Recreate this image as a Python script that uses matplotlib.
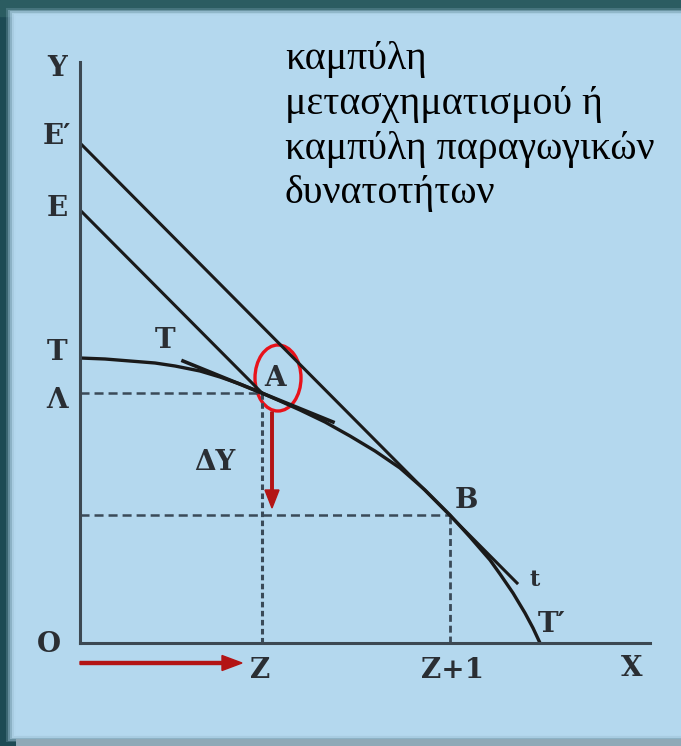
import numpy as np
import matplotlib
matplotlib.use("Agg")
import matplotlib.pyplot as plt
from matplotlib.patches import Ellipse, Rectangle

matplotlib.rcParams['lines.scale_dashes'] = False

# curve T-A-B-T' (x = output, y = Y)
curve_x = [0, 25, 50, 75, 95, 120, 140, 160, 182, 200, 220, 245, 270, 295, 320, 345, 370, 390, 410, 420, 433, 445, 453, 460]
curve_y = [285, 284, 282, 280, 277, 272, 266, 259, 250, 242, 233, 221, 207, 192, 175, 153, 128, 106, 83, 69, 50, 30, 15, 0]

# straight lines
line_E = ([0, 182], [433, 250])          # E -> A
line_E2 = ([0, 437], [500, 60])          # E' -> B -> t
tangent_A = ([103, 253], [282, 221])     # short tangent at A

point_A = (182, 250)
point_B = (370, 128)

y_labels = ["Y", "E\u2032", "E", "T", "\u039b"]
y_label_pos = [575, 506, 435, 291, 243]

title_lines = ["καμπύλη", "μετασχηματισμού ή", "καμπύλη παραγωγικών", "δυνατοτήτων"]

W, H = 681, 746
fig = plt.figure(figsize=(W / 100, H / 100), dpi=100)
fig.patch.set_facecolor("#1f4c56")

# background frame
bg = fig.add_axes([0, 0, 1, 1])
bg.set_xlim(0, W)
bg.set_ylim(H, 0)
bg.axis("off")
bg.add_patch(Rectangle((0, 0), W, H, color="#1d4a54"))
bg.add_patch(Rectangle((0, 0), W, 16, color="#2b5c61"))
for i, a in enumerate([0.2, 0.35, 0.5, 0.7, 0.85, 1.0]):
    bg.add_patch(Rectangle((6 + 2 * i, 8 + 1.5 * i), W, H - 12 - 3 * i, color="#b4d8ee", alpha=a, lw=0))
bg.add_patch(Rectangle((16, 739), W, 7, color="#8fa9b7", lw=0))

# main diagram axes, 1 data unit = 1 pixel, origin at O
ax = fig.add_axes([80 / W, (H - 643) / H, 570 / W, 581 / H])
ax.set_xlim(0, 570)
ax.set_ylim(0, 581)
ax.patch.set_alpha(0)
ax.set_xticks([])
ax.set_yticks([])
for s in ["top", "right"]:
    ax.spines[s].set_visible(False)
for s in ["left", "bottom"]:
    ax.spines[s].set_color("#3c4852")
    ax.spines[s].set_linewidth(2.2)

ink = "#1a1a1a"
dash = "#3a4a58"

# dashed guides
ax.plot([0, point_A[0]], [point_A[1], point_A[1]], color=dash, lw=1.8, dashes=(6.5, 3.6))
ax.plot([point_A[0], point_A[0]], [0, point_A[1]], color=dash, lw=2.2, dashes=(4, 2.5))
ax.plot([0, point_B[0]], [point_B[1], point_B[1]], color=dash, lw=1.8, dashes=(6.5, 3.6))
ax.plot([point_B[0], point_B[0]], [0, point_B[1]], color=dash, lw=2.0, dashes=(5, 2.8))

# lines and curve
ax.plot(curve_x, curve_y, color=ink, lw=2.4, solid_joinstyle="round", solid_capstyle="round")
ax.plot(*line_E, color=ink, lw=2.2)
ax.plot(*line_E2, color=ink, lw=2.2)
ax.plot(*tangent_A, color=ink, lw=2.6)

# red marks
ax.add_patch(Ellipse((198, 265), 46, 66, fill=False, ec="#e8121a", lw=2.4, clip_on=False))
ax.arrow(192, 231, 0, -96, width=2.5, head_width=14, head_length=18,
         length_includes_head=True, color="#b31414", clip_on=False)
ax.arrow(0, -20, 162, 0, width=3, head_width=15, head_length=20,
         length_includes_head=True, color="#b31414", clip_on=False)

# letters
lab = dict(family="DejaVu Serif", weight="bold", fontsize=20, color="#2a2e33",
           ha="center", va="center", clip_on=False)
for t, y in zip(y_labels, y_label_pos):
    ax.text(-23, y, t, **lab)
ax.text(-31, -2, "O", **lab)
ax.text(180, -27, "Z", **lab)
ax.text(372, -27, "Z+1", **lab)
ax.text(552, -25, "X", **lab)
ax.text(135, 181, "\u0394Y", **lab)
ax.text(85, 303, "T", **lab)
ax.text(195, 265, "A", **lab)
ax.text(386, 143, "B", **lab)
ax.text(455, 63, "t", **dict(lab, fontsize=16))
ax.text(472, 18, "T\u2032", **lab)

# greek caption
for i, line in enumerate(title_lines):
    fig.text(285 / W, 1 - (60 + 44.5 * i) / H, line, family="Liberation Serif",
             fontsize=28.7, color="black", ha="left", va="center")

fig.savefig("out.png", dpi=100, facecolor=fig.get_facecolor())
